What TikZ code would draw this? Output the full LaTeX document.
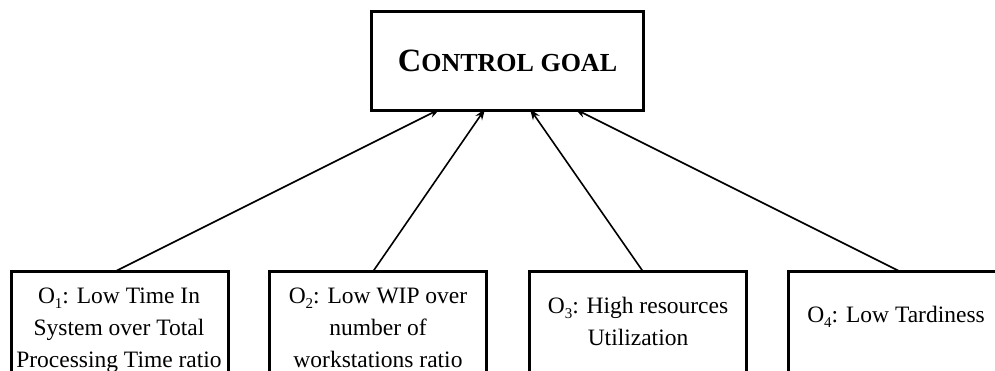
\documentclass[tikz,border=0pt]{standalone}
\usepackage{fontspec}
\setmainfont{Liberation Serif}
\usetikzlibrary{arrows.meta}

% multi-line label whose baseline is that of its first line
\newcommand\linesstack[1]{\begin{tabular}[t]{@{}c@{}}#1\end{tabular}}
% subscript set low, as in a word processor
\newcommand\lowsub[1]{\raisebox{-0.22em}{\fontsize{15}{15}\selectfont #1}}

\begin{document}
\begin{tikzpicture}[x=1pt,y=-1pt,
  goalbox/.style={draw,line width=3pt,outer sep=0pt,inner sep=0pt,
    minimum width=272pt,minimum height=99pt},
  objbox/.style={draw,line width=3pt,outer sep=0pt,inner sep=0pt,anchor=north,
    minimum width=217pt,minimum height=140pt},
  objtext/.style={inner sep=0pt,anchor=base,
    font=\fontsize{23.5}{32}\selectfont},
  link/.style={line width=1.6pt,-{Stealth[length=11pt,width=8pt]}}]
\useasboundingbox (0,0) rectangle (995,371);
\clip (0,0) rectangle (995,371);

% the goal
\node[goalbox] (goal) at (507.5,61)
  {\bfseries{\fontsize{32.5}{36}\selectfont C}{\fontsize{26}{30}\selectfont ONTROL GOAL}};

% the four objectives
\node[objbox] (o1) at (120,271.5) {};
\node[objbox] (o2) at (378,271.5) {};
\node[objbox] (o3) at (638,271.5) {};
\node[objbox] (o4) at (897,271.5) {};

\node[objtext] (t1) at (119,303)
  {\linesstack{O\lowsub{1}: Low Time In\\System over Total\\Processing Time ratio}};
\node[objtext] (t2) at (378,303)
  {\linesstack{O\lowsub{2}: Low WIP over\\number of\\workstations ratio}};
\node[objtext] (t3) at (638,313)
  {\linesstack{O\lowsub{3}: High resources\\Utilization}};
\node[objtext] (t4) at (896,322)
  {O\lowsub{4}: Low Tardiness};

% each objective feeds the goal
\draw[link] ([xshift=-5pt]o1.north) -- ([xshift=-67.5pt,yshift=1.5pt]goal.south);
\draw[link] ([xshift=-5pt]o2.north) -- ([xshift=-22.5pt,yshift=1.5pt]goal.south);
\draw[link] ([xshift=5pt]o3.north) -- ([xshift=22.5pt,yshift=1.5pt]goal.south);
\draw[link] ([xshift=3pt]o4.north) -- ([xshift=67.5pt,yshift=1.5pt]goal.south);
\end{tikzpicture}
\end{document}
